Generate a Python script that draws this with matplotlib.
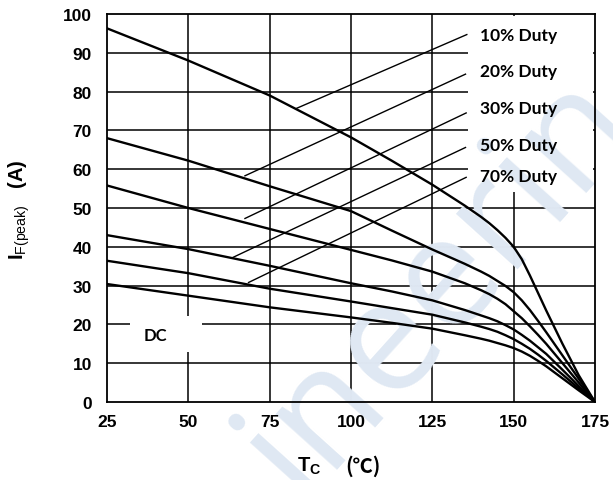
import numpy as np
import matplotlib.pyplot as plt
from matplotlib.patches import Rectangle

plt.rcParams['mathtext.fontset'] = 'custom'
plt.rcParams['mathtext.rm'] = 'Liberation Sans'
plt.rcParams['mathtext.bf'] = 'Liberation Sans:bold'

# case temperature (C) and peak forward current (A)
tc = [25, 50, 75, 100, 112.5, 125, 135, 140, 142.5, 145, 147.5, 150, 152.5, 155, 157.5, 160, 165, 170, 175]
duty10 = [96.3, 88.0, 79.0, 68.2, 62.2, 56.0, 50.6, 47.7, 46.1, 44.3, 42.3, 40.0, 36.8, 32.6, 28.1, 23.6, 15.0, 6.9, 0]
duty20 = [68.0, 62.2, 55.6, 49.2, 44.2, 39.3, 35.6, 33.6, 32.5, 31.2, 29.9, 28.3, 26.2, 23.7, 20.9, 18.0, 12.0, 6.0, 0]
duty30 = [55.8, 50.0, 44.6, 39.2, 36.5, 33.6, 30.6, 28.8, 27.8, 26.6, 25.2, 23.4, 21.6, 19.5, 17.3, 15.0, 10.0, 5.0, 0]
duty50 = [43.0, 39.4, 35.1, 30.6, 28.5, 26.2, 23.7, 22.3, 21.6, 20.8, 19.8, 18.7, 17.3, 15.8, 14.1, 12.4, 8.3, 4.1, 0]
duty70 = [36.4, 33.2, 29.2, 25.9, 24.2, 22.5, 20.5, 19.4, 18.8, 18.1, 17.2, 16.2, 15.0, 13.7, 12.2, 10.6, 7.1, 3.5, 0]
dc = [30.4, 27.4, 24.4, 21.8, 20.4, 18.9, 17.2, 16.3, 15.8, 15.2, 14.6, 13.9, 13.0, 11.9, 10.6, 9.2, 6.1, 3.0, 0]

labels = ['10% Duty', '20% Duty', '30% Duty', '50% Duty', '70% Duty']
label_y = [94.6, 85.4, 75.9, 66.3, 58.3]
# leader lines: start on the curve, end near the label
lead_x0 = [83.3, 67.4, 67.4, 63.8, 68.5]
lead_y0 = [75.7, 58.3, 47.3, 37.3, 30.8]
lead_x1 = [135.6, 135.2, 135.4, 135.2, 135.4]
lead_y1 = [94.7, 84.5, 74.5, 65.6, 57.9]

xticks = [25, 50, 75, 100, 125, 150, 175]
yticks = [0, 10, 20, 30, 40, 50, 60, 70, 80, 90, 100]

fig = plt.figure(figsize=(6.13, 4.81), dpi=100)
ax = fig.add_axes([0.1746, 0.1622, 0.796, 0.8066])
ax.set_xlim(25, 175)
ax.set_ylim(0, 100)

# grid
for x in xticks[1:-1]:
    ax.axvline(x, color='black', lw=1.1, zorder=0.5)
for y in yticks[1:-1]:
    ax.axhline(y, color='black', lw=1.1, zorder=0.5)

# white boxes that blank the grid behind the labels
ax.add_patch(Rectangle((136, 54), 38.4, 45.6, facecolor='white', edgecolor='none', zorder=1))
ax.add_patch(Rectangle((32.1, 12.9), 22.1, 9.3, facecolor='white', edgecolor='none', zorder=1))

# watermark
ax.text(127, 31, 'ineerin', fontsize=112, family='Open Sans', color='#dfe8f3',
        rotation=48, ha='center', va='center', zorder=1.5, clip_on=False)

for curve in [duty10, duty20, duty30, duty50, duty70, dc]:
    ax.plot(tc, curve, color='black', lw=1.7, zorder=3, solid_joinstyle='round')

for i in range(len(labels)):
    ax.plot([lead_x0[i], lead_x1[i]], [lead_y0[i], lead_y1[i]], color='black', lw=1.0, zorder=3)
    ax.text(139.8, label_y[i], labels[i], family='Lato', fontweight='bold', fontsize=12.5,
            ha='left', va='center', zorder=4)

ax.text(39.8, 17.3, 'DC', family='Lato', fontweight='bold', fontsize=12,
        ha='center', va='center', zorder=4)

ax.set_xticks(xticks)
ax.set_yticks(yticks)
ax.tick_params(length=0, labelsize=12.5)
ax.tick_params(axis='y', pad=11)
ax.tick_params(axis='x', pad=9)
for lab in ax.get_xticklabels() + ax.get_yticklabels():
    lab.set_family('Liberation Sans')
    lab.set_fontweight('bold')
for s in ax.spines.values():
    s.set_linewidth(1.3)
    s.set_zorder(2.5)

fig.text(0.4845, 0.031, r'$\mathbf{T}_{\mathbf{C}}$', fontsize=14.5, ha='left', va='center')
fig.text(0.563, 0.031, '(℃)', family=['Noto Sans CJK SC', 'DejaVu Sans'], fontweight='bold',
         fontsize=14.5, ha='left', va='center')
fig.text(0.031, 0.565, r'$\mathbf{I}_{\mathrm{F(peak)}}$' + '   (A)', family='Liberation Sans',
         fontweight='bold', fontsize=14.5, rotation=90, ha='center', va='center')

fig.savefig('out.png', dpi=100)
